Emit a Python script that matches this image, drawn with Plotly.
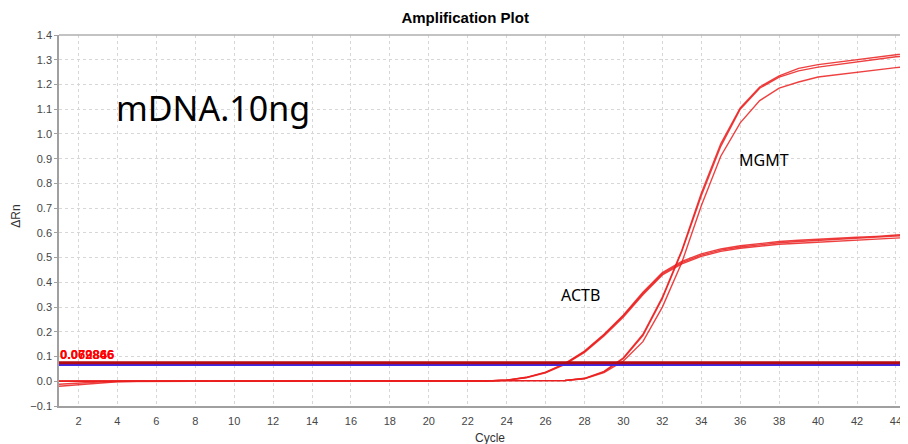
import plotly.graph_objects as go

cycles = list(range(1, 46))

actb_rep1 = [0.0, 0.0, 0.0, 0.0, 0.0, 0.0, 0.0, 0.0, 0.0, 0.0,
             0.0, 0.0, 0.0, 0.0, 0.0, 0.0, 0.0, 0.0, 0.0, 0.0,
             0.0, 0.0, 0.001, 0.005, 0.016, 0.037, 0.072, 0.122, 0.19, 0.268,
             0.36, 0.44, 0.485, 0.515, 0.535, 0.548, 0.557, 0.565, 0.57, 0.575,
             0.578, 0.582, 0.586, 0.592, 0.597]
actb_rep2 = [0.0, 0.0, 0.0, 0.0, 0.0, 0.0, 0.0, 0.0, 0.0, 0.0,
             0.0, 0.0, 0.0, 0.0, 0.0, 0.0, 0.0, 0.0, 0.0, 0.0,
             0.0, 0.0, 0.001, 0.005, 0.015, 0.036, 0.07, 0.12, 0.187, 0.265,
             0.355, 0.435, 0.48, 0.51, 0.53, 0.543, 0.552, 0.56, 0.565, 0.57,
             0.574, 0.578, 0.582, 0.588, 0.592]
actb_rep3 = [0.0, 0.0, 0.0, 0.0, 0.0, 0.0, 0.0, 0.0, 0.0, 0.0,
             0.0, 0.0, 0.0, 0.0, 0.0, 0.0, 0.0, 0.0, 0.0, 0.0,
             0.0, 0.0, 0.001, 0.004, 0.014, 0.034, 0.068, 0.117, 0.183, 0.26,
             0.35, 0.43, 0.475, 0.505, 0.525, 0.538, 0.547, 0.554, 0.558, 0.562,
             0.566, 0.57, 0.574, 0.579, 0.583]

mgmt_rep1 = [0.0, 0.0, 0.0, 0.0, 0.0, 0.0, 0.0, 0.0, 0.0, 0.0,
             0.0, 0.0, 0.0, 0.0, 0.0, 0.0, 0.0, 0.0, 0.0, 0.0,
             0.0, 0.0, 0.0, 0.0, 0.0, 0.001, 0.003, 0.012, 0.04, 0.095,
             0.19, 0.34, 0.53, 0.76, 0.96, 1.105, 1.19, 1.235, 1.265, 1.28,
             1.29, 1.3, 1.31, 1.322, 1.33]
mgmt_rep2 = [-0.012, -0.007, -0.003, -0.001, 0.0, 0.0, 0.0, 0.0, 0.0, 0.0,
             0.0, 0.0, 0.0, 0.0, 0.0, 0.0, 0.0, 0.0, 0.0, 0.0,
             0.0, 0.0, 0.0, 0.0, 0.0, 0.001, 0.003, 0.011, 0.038, 0.092,
             0.185, 0.335, 0.525, 0.75, 0.95, 1.1, 1.185, 1.23, 1.255, 1.27,
             1.28, 1.29, 1.3, 1.312, 1.318]
mgmt_rep3 = [-0.02, -0.013, -0.006, -0.002, 0.0, 0.0, 0.0, 0.0, 0.0, 0.0,
             0.0, 0.0, 0.0, 0.0, 0.0, 0.0, 0.0, 0.0, 0.0, 0.0,
             0.0, 0.0, 0.0, 0.0, 0.0, 0.001, 0.003, 0.01, 0.035, 0.082,
             0.16, 0.3, 0.48, 0.71, 0.91, 1.045, 1.135, 1.185, 1.21, 1.23,
             1.24, 1.25, 1.26, 1.268, 1.275]

threshold_red = 0.0745
threshold_blue = 0.066
threshold_labels = ["0.069866", "0.072846"]

x_ticks = list(range(2, 46, 2))
y_ticks = [-0.1, 0.0, 0.1, 0.2, 0.3, 0.4, 0.5, 0.6, 0.7, 0.8, 0.9, 1.0, 1.1, 1.2, 1.3, 1.4]

fig = go.Figure()

curve_color = "rgba(235,30,30,0.85)"
for ys in [actb_rep1, actb_rep2, actb_rep3, mgmt_rep1, mgmt_rep2, mgmt_rep3]:
    fig.add_trace(go.Scatter(x=cycles, y=ys, mode="lines",
                             line=dict(color=curve_color, width=1.4),
                             showlegend=False, hoverinfo="skip"))

fig.add_trace(go.Scatter(x=[1, 46], y=[threshold_blue, threshold_blue], mode="lines",
                         line=dict(color="rgb(60,40,230)", width=2),
                         showlegend=False, hoverinfo="skip"))
fig.add_trace(go.Scatter(x=[1, 46], y=[threshold_red, threshold_red], mode="lines",
                         line=dict(color="rgb(180,10,20)", width=3),
                         showlegend=False, hoverinfo="skip"))

for lab in threshold_labels:
    fig.add_annotation(x=1, y=threshold_red, xref="x", yref="y", text="<b>" + lab + "</b>",
                       showarrow=False, xanchor="left", yanchor="bottom",
                       xshift=-1, yshift=-1,
                       font=dict(family="Liberation Sans", size=13, color="rgb(255,0,0)"))

fig.add_annotation(x=8.9, y=1.105, xref="x", yref="y", text="mDNA.10ng",
                   showarrow=False, xanchor="center", yanchor="middle",
                   font=dict(family="Noto Sans", size=34, color="black"))
fig.add_annotation(x=37.2, y=0.894, xref="x", yref="y", text="MGMT",
                   showarrow=False, xanchor="center", yanchor="middle",
                   font=dict(family="Noto Sans", size=16, color="black"))
fig.add_annotation(x=27.8, y=0.349, xref="x", yref="y", text="ACTB",
                   showarrow=False, xanchor="center", yanchor="middle",
                   font=dict(family="Noto Sans", size=16, color="black"))

# axis titles placed in the margins
fig.add_annotation(x=0.508, y=0, xref="paper", yref="paper", text="Cycle",
                   showarrow=False, xanchor="center", yanchor="top", yshift=-23,
                   font=dict(family="Liberation Sans", size=12, color="rgb(50,50,50)"))
fig.add_annotation(x=0, y=0.51, xref="paper", yref="paper", text="ΔRn",
                   showarrow=False, xanchor="center", yanchor="middle", xshift=-43,
                   textangle=-90,
                   font=dict(family="Liberation Sans", size=12, color="rgb(50,50,50)"))

fig.update_layout(
    width=900, height=436,
    margin=dict(l=51, r=0, t=27, b=38, autoexpand=False),
    paper_bgcolor="white", plot_bgcolor="white",
    title=dict(text="<b>Amplification Plot</b>", x=0.508, xanchor="center",
               y=0.977, yanchor="middle",
               font=dict(family="Liberation Sans", size=15, color="black")),
    xaxis=dict(range=[1, 44.62], tickvals=x_ticks, showgrid=True, automargin=False,
               gridcolor="rgb(215,215,215)", griddash="dot", gridwidth=1,
               zeroline=False, showline=True, linecolor="rgb(160,160,160)", linewidth=1.5,
               mirror=False, ticks="", ticklabelstandoff=4,
               tickfont=dict(family="Liberation Sans", size=11, color="rgb(70,70,70)")),
    yaxis=dict(range=[-0.1, 1.4], tickvals=y_ticks, tickformat=".1f", showgrid=True,
               automargin=False,
               gridcolor="rgb(215,215,215)", griddash="dot", gridwidth=1,
               zeroline=False, showline=True, linecolor="rgb(160,160,160)", linewidth=1.5,
               ticks="outside", ticklen=3, tickcolor="rgb(160,160,160)",
               tickfont=dict(family="Liberation Sans", size=11, color="rgb(70,70,70)")),
)

fig.add_shape(type="line", xref="paper", yref="paper", x0=0, x1=1, y0=1, y1=1,
              line=dict(color="rgb(175,175,175)", width=1.5))

fig.write_html("out.html")
